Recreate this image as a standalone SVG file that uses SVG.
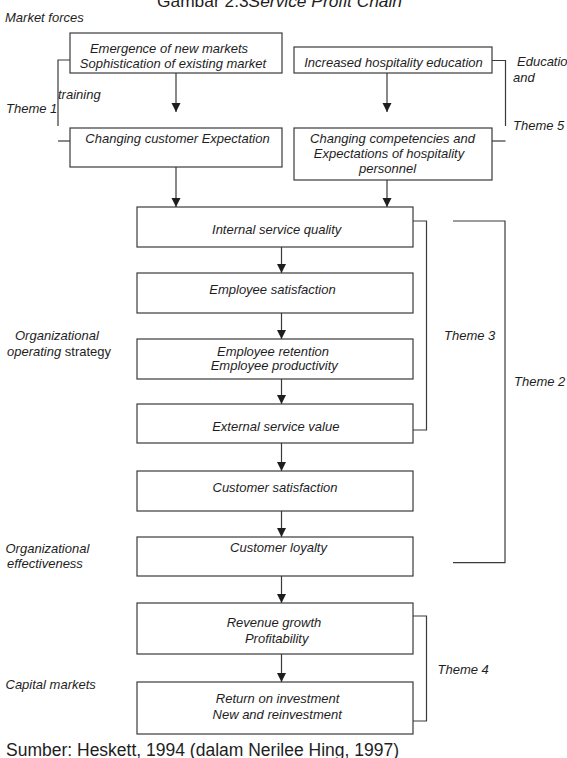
<svg xmlns="http://www.w3.org/2000/svg" width="567" height="758" viewBox="0 0 567 758">
<style>
  .box{fill:#fff;stroke:#3a3a3a;stroke-width:1.2}
  .ln{fill:none;stroke:#3a3a3a;stroke-width:1.2}
  .t{font-family:"Liberation Sans",Arial,sans-serif;font-size:13px;font-style:italic;fill:#1e1e1e}
  .c{text-anchor:middle}
  .n{font-style:normal}
  .big{font-family:"Liberation Sans",Arial,sans-serif;font-size:17px;fill:#1e1e1e}
</style>
<defs>
  <marker id="ah" markerUnits="userSpaceOnUse" markerWidth="10" markerHeight="10" refX="9" refY="4.5" orient="auto">
    <path d="M0,0 L9,4.5 L0,9 z" fill="#1e1e1e"/>
  </marker>
</defs>
<rect width="567" height="758" fill="#fff"/>

<text class="big" x="157" y="7" textLength="245" lengthAdjust="spacingAndGlyphs">Gambar 2.3<tspan font-style="italic">Service Profit Chain</tspan></text>

<g id="connectors">
  <line class="ln" x1="176" y1="73" x2="176" y2="112" marker-end="url(#ah)"/>
  <line class="ln" x1="387" y1="73" x2="387" y2="112" marker-end="url(#ah)"/>
  <line class="ln" x1="176" y1="167" x2="176" y2="207" marker-end="url(#ah)"/>
  <line class="ln" x1="387" y1="180" x2="387" y2="207" marker-end="url(#ah)"/>
  <line class="ln" x1="281.5" y1="247" x2="281.5" y2="273" marker-end="url(#ah)"/>
  <line class="ln" x1="281.5" y1="313" x2="281.5" y2="339" marker-end="url(#ah)"/>
  <line class="ln" x1="281.5" y1="379" x2="281.5" y2="404" marker-end="url(#ah)"/>
  <line class="ln" x1="281.5" y1="443" x2="281.5" y2="471" marker-end="url(#ah)"/>
  <line class="ln" x1="281.5" y1="511" x2="281.5" y2="537" marker-end="url(#ah)"/>
  <line class="ln" x1="281.5" y1="576" x2="281.5" y2="603" marker-end="url(#ah)"/>
  <line class="ln" x1="281.5" y1="654" x2="281.5" y2="682" marker-end="url(#ah)"/>
</g>

<g id="brackets">
  <polyline class="ln" points="70,60 58,60 58,126"/>
  <line class="ln" x1="58" y1="141" x2="70" y2="141"/>
  <polyline class="ln" points="492,60.5 505.5,60.5 505.5,126"/>
  <line class="ln" x1="492" y1="141" x2="505.5" y2="141"/>
  <polyline class="ln" points="413,221 426.5,221 426.5,430 413,430"/>
  <polyline class="ln" points="453,221 505,221 505,562.7 453,562.7"/>
  <polyline class="ln" points="413,616 426.5,616 426.5,721 413,721"/>
</g>

<g id="labels">
  <text class="t" x="5" y="22">Market forces</text>
  <text class="t" x="58" y="98.5">training</text>
  <text class="t" x="6" y="113">Theme 1</text>
  <text class="t" x="517" y="66">Education</text>
  <text class="t" x="513" y="82">and</text>
  <text class="t" x="513" y="130">Theme 5</text>
  <text class="t" x="444" y="340">Theme 3</text>
  <text class="t" x="514" y="386">Theme 2</text>
  <text class="t" x="437.5" y="674">Theme 4</text>
  <text class="t" x="15" y="340">Organizational</text>
  <text class="t" x="7" y="356">operating<tspan class="n"> strategy</tspan></text>
  <text class="t" x="5.5" y="552.7">Organizational</text>
  <text class="t" x="7" y="567.7">effectiveness</text>
  <text class="t" x="5.5" y="688.7">Capital markets</text>
</g>

<g id="n-markets">
  <rect class="box" x="70" y="33" width="212" height="40"/>
  <text class="t c" x="169" y="53">Emergence of new markets</text>
  <text class="t c" x="173" y="67.7">Sophistication of existing market</text>
</g>
<g id="n-education">
  <rect class="box" x="294" y="47" width="198" height="26"/>
  <text class="t c" x="393.5" y="66.7">Increased hospitality education</text>
</g>
<g id="n-expectation">
  <rect class="box" x="70" y="128" width="212" height="39"/>
  <text class="t c" x="177.5" y="143">Changing customer Expectation</text>
</g>
<g id="n-competencies">
  <rect class="box" x="294" y="128" width="198" height="52"/>
  <text class="t c" x="392.5" y="143.3">Changing competencies and</text>
  <text class="t c" x="389" y="158">Expectations of hospitality</text>
  <text class="t c" x="387.5" y="173">personnel</text>
</g>
<g id="n-isq">
  <rect class="box" x="137" y="207" width="276" height="40"/>
  <text class="t c" x="276.7" y="234">Internal service quality</text>
</g>
<g id="n-es">
  <rect class="box" x="137" y="273" width="276" height="40"/>
  <text class="t c" x="272.5" y="294">Employee satisfaction</text>
</g>
<g id="n-er">
  <rect class="box" x="137" y="339" width="276" height="40"/>
  <text class="t c" x="273" y="355.7">Employee retention</text>
  <text class="t c" x="274.3" y="370.3">Employee productivity</text>
</g>
<g id="n-esv">
  <rect class="box" x="137" y="404" width="276" height="39"/>
  <text class="t c" x="275.8" y="430.7">External service value</text>
</g>
<g id="n-cs">
  <rect class="box" x="137" y="471" width="276" height="40"/>
  <text class="t c" x="275" y="491.7">Customer satisfaction</text>
</g>
<g id="n-cl">
  <rect class="box" x="137" y="537" width="276" height="39"/>
  <text class="t c" x="278.5" y="551.7">Customer loyalty</text>
</g>
<g id="n-rg">
  <rect class="box" x="137" y="603" width="276" height="51"/>
  <text class="t c" x="274" y="627">Revenue growth</text>
  <text class="t c" x="276.7" y="642.7">Profitability</text>
</g>
<g id="n-roi">
  <rect class="box" x="137" y="682" width="276" height="52"/>
  <text class="t c" x="277.6" y="703">Return on investment</text>
  <text class="t c" x="277.2" y="718.7">New and reinvestment</text>
</g>

<text class="big" x="6" y="755.5" font-size="17.5" style="font-size:17.5px">Sumber: Heskett, 1994 (dalam Nerilee Hing, 1997)</text>
</svg>
